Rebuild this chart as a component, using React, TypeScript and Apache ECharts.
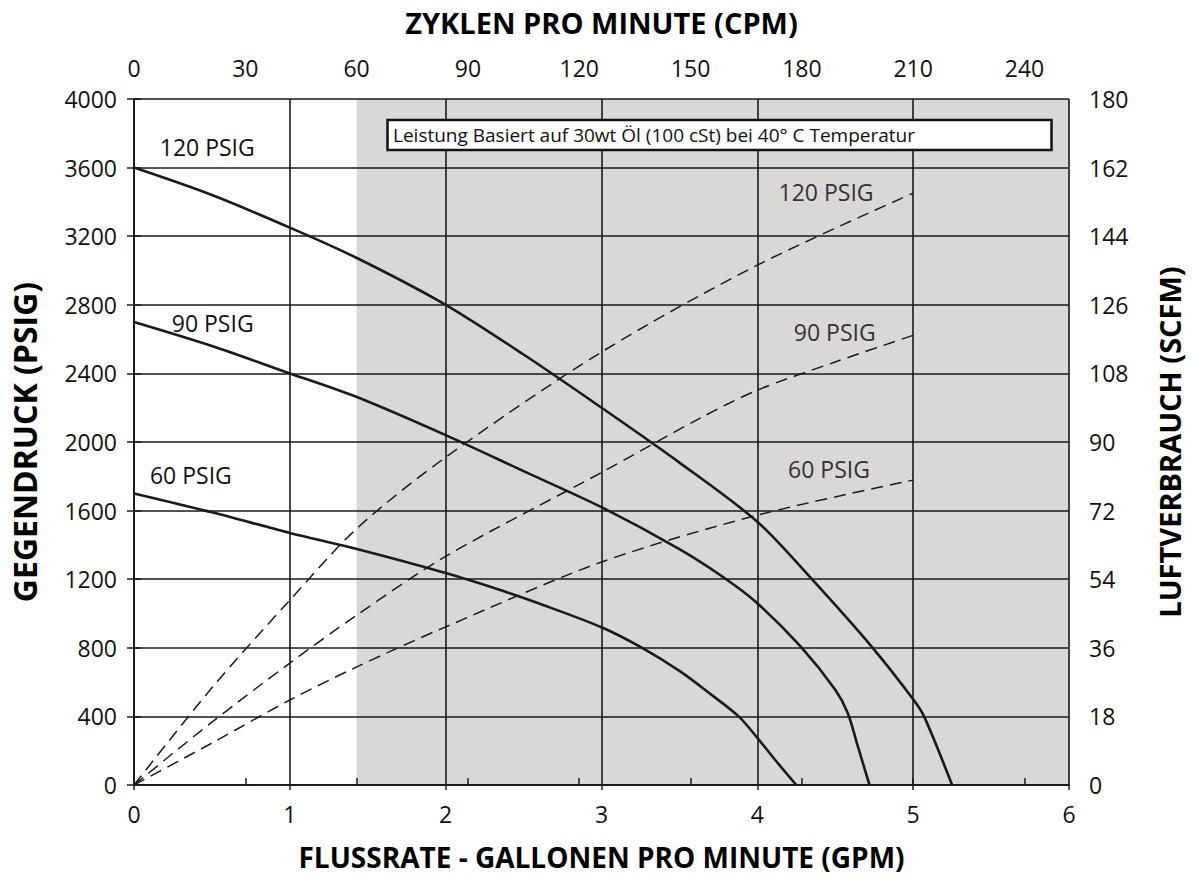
import React, { useEffect, useRef } from "react";
import * as echarts from "echarts";

// Solid curves: discharge pressure (PSIG) vs flow (GPM)
const flow120 = [0, 0.5, 1, 1.43, 2, 2.5, 3, 3.5, 4, 4.35, 4.74, 5.0, 5.07, 5.25];
const pres120 = [3600, 3440, 3250, 3073, 2800, 2510, 2200, 1880, 1535, 1200, 800, 500, 400, 0];
const flow90 = [0, 0.5, 1, 1.43, 2, 2.5, 3, 3.5, 3.8, 4, 4.28, 4.5, 4.58, 4.65, 4.72];
const pres90 = [2700, 2560, 2400, 2262, 2040, 1830, 1620, 1375, 1200, 1060, 805, 555, 420, 210, 0];
const flow60 = [0, 0.5, 1, 1.43, 2, 2.35, 2.6, 3, 3.25, 3.5, 3.7, 3.88, 4, 4.12, 4.25];
const pres60 = [1700, 1590, 1470, 1376, 1236, 1137, 1058, 920, 805, 665, 530, 400, 275, 140, 0];

// Dashed curves: air consumption (SCFM) vs flow (GPM)
const airFlow120 = [0, 0.5, 1, 1.43, 2, 3, 4, 5];
const air120 = [0, 25.5, 48.5, 67.3, 86, 113.6, 136.4, 155.3];
const airFlow90 = [0, 0.5, 1, 1.43, 2, 3, 3.63, 4, 4.5, 5];
const air90 = [0, 16.5, 32, 44.6, 60, 82, 96.2, 103.6, 111, 118];
const airFlow60 = [0, 0.5, 1, 1.43, 2, 3, 4, 5];
const air60 = [0, 11, 22.3, 31, 41.5, 58.5, 70.8, 80];

// Axis ticks
const cpmTicks = [0, 30, 60, 90, 120, 150, 180, 210, 240];
const cpmPerGpm = 42; // 210 CPM = 5 GPM
const shadeStartCpm = 60;

// Curve labels [gpm, value]
const pressureLabels = ["120 PSIG", "90 PSIG", "60 PSIG"];
const pressureLabelPos = [[0.47, 3720], [0.505, 2694], [0.365, 1808]];
const airLabelPos = [[4.441, 155.5], [4.497, 118.9], [4.46, 82.9]];

const FONT = "'Open Sans', 'Noto Sans', sans-serif";

const zip = (xs: number[], ys: number[]) => xs.map((x, i) => [x, ys[i]]);

export default function App() {
  const ref = useRef<HTMLDivElement>(null);
  useEffect(() => {
    if (!ref.current) return;
    const chart = echarts.init(ref.current, null, { renderer: "svg" });
    const solid = (name: string, data: number[][], li: number, extra: any = {}) => ({
      type: "line",
      name,
      data,
      xAxisIndex: 0,
      yAxisIndex: 0,
      smooth: 0.3,
      symbol: "none",
      lineStyle: { color: "#1a1a1a", width: 2.6 },
      markPoint: {
        symbol: "circle",
        symbolSize: 0,
        label: { show: true, position: "inside", color: "#111", fontSize: 23, fontFamily: FONT, formatter: pressureLabels[li] },
        data: [{ coord: pressureLabelPos[li], value: 0 }],
      },
      z: 2,
      ...extra,
    });
    const dashed = (name: string, data: number[][], li: number) => ({
      type: "line",
      name,
      data,
      xAxisIndex: 0,
      yAxisIndex: 1,
      smooth: 0.3,
      symbol: "none",
      lineStyle: { color: "#1a1a1a", width: 1.5, type: [12, 7] },
      markPoint: {
        symbol: "circle",
        symbolSize: 0,
        label: { show: true, position: "inside", color: "#333", fontSize: 23, fontFamily: FONT, formatter: pressureLabels[li] },
        data: [{ coord: airLabelPos[li], value: 0 }],
      },
      z: 2,
    });
    const axisCommon = {
      axisLine: { show: true, lineStyle: { color: "#1a1a1a", width: 1.5 } },
      axisTick: { show: true, length: 7, lineStyle: { color: "#1a1a1a", width: 1.5 } },
      axisLabel: { color: "#111", fontSize: 23, fontFamily: FONT, formatter: (v: number) => String(v) },
      nameTextStyle: { color: "#000", fontSize: 28, fontWeight: "bold", fontFamily: FONT },
      z: 3,
    };
    chart.setOption({
      animation: false,
      backgroundColor: "#ffffff",
      grid: { left: 131, right: 120, top: 99, bottom: 103 },
      xAxis: [
        {
          ...axisCommon,
          type: "value",
          position: "bottom",
          min: 0,
          max: 6,
          interval: 1,
          name: "FLUSSRATE - GALLONEN PRO MINUTE (GPM)",
          nameLocation: "middle",
          nameGap: 58,
          axisTick: { ...axisCommon.axisTick, length: 5 },
          axisLabel: { ...axisCommon.axisLabel, margin: 17 },
          splitLine: { show: true, lineStyle: { color: "#1a1a1a", width: 1.6 } },
        },
        {
          ...axisCommon,
          type: "value",
          position: "top",
          min: 0,
          max: 6 * cpmPerGpm,
          interval: 30,
          name: "ZYKLEN PRO MINUTE (CPM)",
          nameLocation: "middle",
          nameGap: 62,
          nameTextStyle: { ...axisCommon.nameTextStyle, fontSize: 29 },
          axisTick: { ...axisCommon.axisTick, length: 7, customValues: cpmTicks },
          axisLabel: { ...axisCommon.axisLabel, margin: 20, customValues: cpmTicks },
          splitLine: { show: false },
        },
      ],
      yAxis: [
        {
          ...axisCommon,
          type: "value",
          position: "left",
          min: 0,
          max: 4000,
          interval: 400,
          name: "GEGENDRUCK (PSIG)",
          nameLocation: "middle",
          nameRotate: 90,
          nameGap: 94,
          nameTextStyle: { ...axisCommon.nameTextStyle, fontSize: 32 },
          axisLabel: { ...axisCommon.axisLabel, margin: 17 },
          splitLine: { show: true, lineStyle: { color: "#1a1a1a", width: 1.6 } },
        },
        {
          ...axisCommon,
          type: "value",
          position: "right",
          min: 0,
          max: 180,
          interval: 18,
          name: "LUFTVERBRAUCH (SCFM)",
          nameLocation: "middle",
          nameRotate: 90,
          nameGap: 86,
          nameTextStyle: { ...axisCommon.nameTextStyle, fontSize: 29 },
          axisLabel: { ...axisCommon.axisLabel, margin: 20 },
          splitLine: { show: false },
        },
      ],
      series: [
        solid("120 PSIG", zip(flow120, pres120), 0, {
          markArea: {
            silent: true,
            itemStyle: { color: "#d9d8d7" },
            data: [[{ xAxis: shadeStartCpm / cpmPerGpm }, { xAxis: 6 }]],
          },
        }),
        solid("90 PSIG", zip(flow90, pres90), 1),
        solid("60 PSIG", zip(flow60, pres60), 2),
        dashed("120 PSIG Luft", zip(airFlow120, air120), 0),
        dashed("90 PSIG Luft", zip(airFlow90, air90), 1),
        dashed("60 PSIG Luft", zip(airFlow60, air60), 2),
      ],
      graphic: [
        {
          type: "group",
          z: 10,
          children: [
            {
              type: "rect",
              shape: { x: 387.5, y: 120, width: 664, height: 30 },
              style: { fill: "#ffffff", stroke: "#111", lineWidth: 2.5 },
              z: 10,
            },
            {
              type: "text",
              x: 393,
              y: 135,
              style: {
                text: "Leistung Basiert auf 30wt Öl (100 cSt) bei 40° C Temperatur",
                fill: "#111",
                fontSize: 19,
                fontFamily: FONT,
                verticalAlign: "middle",
                align: "left",
              },
              z: 11,
            },
          ],
        },
      ],
    });
    return () => chart.dispose();
  }, []);
  return (
    <div
      ref={ref}
      style={{ position: "fixed", left: 0, top: 0, width: 1192, height: 888, background: "#fff" }}
    />
  );
}
